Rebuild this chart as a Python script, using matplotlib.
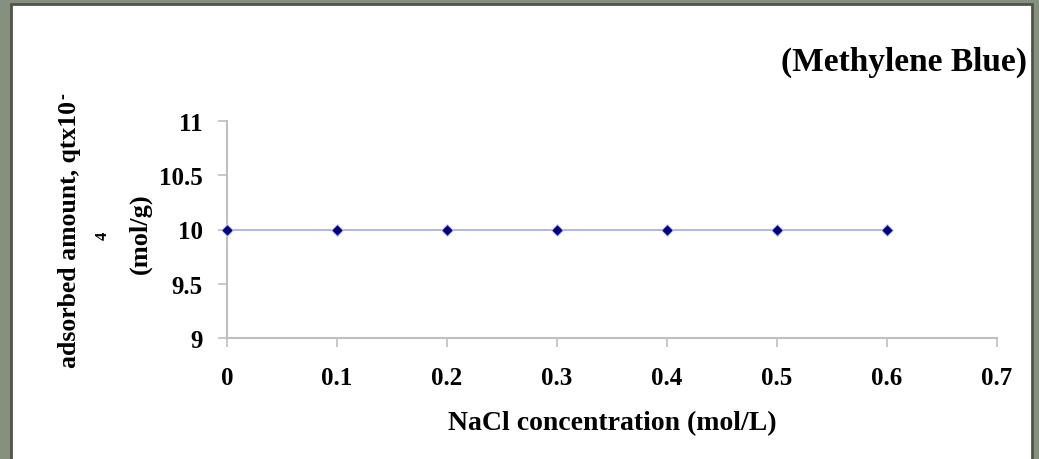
import matplotlib
matplotlib.use("Agg")
import matplotlib.pyplot as plt
from matplotlib.patches import Rectangle

# NaCl concentration (mol/L) vs adsorbed amount (qt x 10^-4 mol/g)
nacl = [0, 0.1, 0.2, 0.3, 0.4, 0.5, 0.6]
qt = [10, 10, 10, 10, 10, 10, 10]
xticks = [0, 0.1, 0.2, 0.3, 0.4, 0.5, 0.6, 0.7]
yticks = [9, 9.5, 10, 10.5, 11]

W, H = 1039, 460
plt.rcParams['font.family'] = ['Liberation Serif', 'DejaVu Serif']
plt.rcParams['font.weight'] = 'bold'

fig = plt.figure(figsize=(W / 100, H / 100), dpi=100, facecolor='#878f7f')

# white chart area with dark frame
fig.patches.append(Rectangle((11 / W, -0.05), (1032 - 11) / W, (H - 5) / H + 0.05,
                             transform=fig.transFigure, facecolor='white',
                             edgecolor='#4f5449', linewidth=2, zorder=-5))

ax = fig.add_axes([227 / W, 1 - 339 / H, (997 - 227) / W, (339 - 122) / H])
ax.set_zorder(2)
ax.patch.set_alpha(0)
ax.plot(nacl, qt, color='#a3a9e3', linewidth=1.2, marker='D', markersize=6,
        markerfacecolor='#000080', markeredgecolor='#c9ccf0', markeredgewidth=0.8,
        clip_on=False, zorder=3)

ax.set_xlim(0, 0.7)
ax.set_ylim(9, 11)
ax.set_xticks(xticks)
ax.set_xticklabels([f'{v:g}' for v in xticks])
ax.set_yticks(yticks)
ax.set_yticklabels([f'{v:g}' for v in yticks])

for side in ['top', 'right']:
    ax.spines[side].set_visible(False)
for side in ['left', 'bottom']:
    ax.spines[side].set_color('#bfbfbf')
    ax.spines[side].set_linewidth(1.5)
ax.tick_params(axis='both', direction='out', length=6.5, width=1.2, color='#bfbfbf',
               labelsize=18)
ax.tick_params(axis='x', pad=14)
ax.tick_params(axis='y', pad=11)

ax.set_xlabel('NaCl concentration (mol/L)', fontsize=20, fontweight='bold', labelpad=15)

# wrapped y label, Excel-style
fig.text(70 / W, 1 - 368 / H, 'adsorbed amount, qtx10', rotation=90,
         ha='center', va='bottom', fontsize=18.5, fontweight='bold')
fig.text(64 / W, 1 - 96 / H, '-', rotation=90, ha='center', va='center',
         fontsize=13, fontweight='bold')
fig.text(103 / W, 1 - 236 / H, '4', rotation=90, ha='center', va='center',
         fontsize=12, fontweight='bold')
fig.text(140 / W, 1 - 234 / H, '(mol/g)', rotation=90, ha='center', va='center',
         fontsize=19, fontweight='bold')

fig.text(1027 / W, 1 - 62 / H, '(Methylene Blue)', ha='right', va='center',
         fontsize=24, fontweight='bold')

fig.savefig('out.png', dpi=100, facecolor=fig.get_facecolor())
